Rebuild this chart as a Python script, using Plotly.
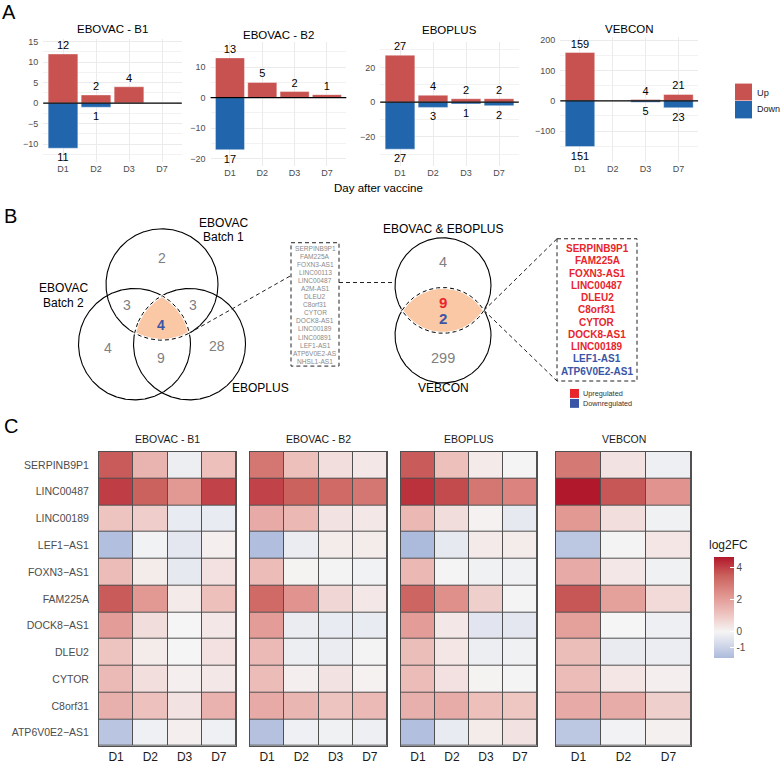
import numpy as np
import plotly.graph_objects as go

W, H = 784, 764
FONT = "Liberation Sans, Arial, sans-serif"

# ---------------- DATA ----------------
days = ["D1", "D2", "D3", "D7"]
cohorts = ["EBOVAC - B1", "EBOVAC - B2", "EBOPLUS", "VEBCON"]

up_b1 = [12, 2, 4, 0]
down_b1 = [11, 1, 0, 0]
up_b2 = [13, 5, 2, 1]
down_b2 = [17, 0, 0, 0]
up_ep = [27, 4, 2, 2]
down_ep = [27, 3, 1, 2]
up_vb = [159, 0, 4, 21]
down_vb = [151, 0, 5, 23]

genes = ["SERPINB9P1", "LINC00487", "LINC00189", "LEF1\u2212AS1", "FOXN3\u2212AS1",
         "FAM225A", "DOCK8\u2212AS1", "DLEU2", "CYTOR", "C8orf31", "ATP6V0E2\u2212AS1"]
days_vb = ["D1", "D2", "D7"]

lfc_b1 = [[3.6, 1.5, -0.2, 1.2],
          [4.1, 3.5, 2.2, 4.0],
          [1.1, 0.9, -0.3, -0.3],
          [-1.5, -0.1, -0.4, 0.15],
          [1.3, 0.2, -0.35, 0.45],
          [3.6, 2.2, 0.25, 1.2],
          [2.1, 0.55, 0.0, 0.3],
          [1.1, 0.2, 0.0, 0.45],
          [1.35, 0.5, 0.15, 0.3],
          [1.6, 1.15, 0.4, 1.55],
          [-1.35, -0.15, 0.15, -0.15]]
lfc_b2 = [[3.0, 1.2, 0.5, 0.3],
          [4.0, 3.5, 3.3, 3.0],
          [1.75, 1.4, 0.4, 0.3],
          [-1.55, -0.25, 0.2, 0.2],
          [1.3, 0.07, -0.05, -0.1],
          [3.3, 2.3, 0.7, 0.3],
          [2.1, -0.25, -0.3, -0.3],
          [1.35, -0.2, -0.25, -0.05],
          [1.3, 0.15, 0.4, 0.1],
          [1.75, 1.45, 1.1, 1.35],
          [-1.45, -0.15, -0.12, -0.17]]
lfc_ep = [[3.6, 1.2, 0.25, -0.03],
          [4.3, 3.9, 3.0, 2.7],
          [1.4, 0.55, 0.1, -0.35],
          [-1.65, -0.35, 0.25, 0.2],
          [1.4, 0.03, -0.12, -0.12],
          [3.4, 2.4, 0.85, 0.02],
          [2.1, 0.3, -0.45, -0.4],
          [1.25, 0.35, -0.2, -0.12],
          [1.3, 0.45, 0.07, 0.02],
          [1.6, 1.7, 1.2, 1.05],
          [-1.5, -0.3, 0.2, 0.4]]
lfc_vb = [[2.95, 0.4, -0.18],
          [4.7, 3.7, 2.3],
          [2.2, 0.5, -0.12],
          [-1.3, -0.05, 0.35],
          [1.75, 0.3, -0.12],
          [3.7, 2.0, 0.6],
          [2.0, 0.0, -0.17],
          [1.25, -0.28, -0.22],
          [1.3, 0.35, 0.15],
          [1.75, 1.7, 0.85],
          [-1.3, -0.08, 0.12]]

# Venn counts: B1 only, B1&B2, B1&EBOPLUS, all three, B2 only, B2&EBOPLUS, EBOPLUS only
venn1_counts = [2, 3, 3, 4, 4, 9, 28]
# EBOVAC&EBOPLUS only, shared up, shared down, VEBCON only
venn2_counts = [4, 9, 2, 299]
box1_genes = ["SERPINB9P1", "FAM225A", "FOXN3-AS1", "LINC00113", "LINC00487", "A2M-AS1",
              "DLEU2", "C8orf31", "CYTOR", "DOCK8-AS1", "LINC00189", "LINC00891",
              "LEF1-AS1", "ATP6V0E2-AS", "NHSL1-AS1"]
box2_up = ["SERPINB9P1", "FAM225A", "FOXN3-AS1", "LINC00487", "DLEU2", "C8orf31",
           "CYTOR", "DOCK8-AS1", "LINC00189"]
box2_down = ["LEF1-AS1", "ATP6V0E2-AS1"]

# ---------------- STYLE ----------------
RED = "#C85250"
BLUE = "#2166AC"
GREY_TXT = "#4D4D4D"
VENN_GREY = "#7F7F7F"
ORANGE = "#FAC8A5"
UPRED = "#E8252B"
DNBLUE = "#3A55A5"


def dx(a, b):
    return [a / W, b / W]


def dy(top, bottom):
    return [1 - bottom / H, 1 - top / H]


fig = go.Figure()

# ---------------- PANEL A ----------------
bar_sets = [(up_b1, down_b1), (up_b2, down_b2), (up_ep, down_ep), (up_vb, down_vb)]
a_xdom = [(43.2, 181.8), (210.6, 346.3), (380.2, 518.8), (560.3, 698.1)]
a_ydom = [(37, 161), (40, 165), (40, 165), (35, 161)]
a_yrng = [(-14.4, 15.7), (-22.36, 18.26), (-36.74, 34.69), (-202.3, 210.8)]
a_tickvals = [[-10, -5, 0, 5, 10, 15], [-20, -10, 0, 10], [-20, 0, 20], [-100, 0, 100, 200]]
a_minor = [[-12.5, -7.5, -2.5, 2.5, 7.5, 12.5], [-15, -5, 5, 15], [-30, -10, 10, 30], [-150, -50, 50, 150]]

shapes = []
for i, (up, dn) in enumerate(bar_sets):
    n = i + 1
    xa = "x" if n == 1 else f"x{n}"
    ya = "y" if n == 1 else f"y{n}"
    fig.add_trace(go.Bar(x=days, y=up, width=0.9, marker=dict(color=RED, line=dict(color="rgba(255,255,255,0.7)", width=0.6)),
                         text=[str(v) if v else "" for v in up], textposition="outside",
                         textfont=dict(size=11, color="black"), cliponaxis=False, constraintext="none",
                         xaxis=xa, yaxis=ya, showlegend=False, hoverinfo="skip"))
    fig.add_trace(go.Bar(x=days, y=[-v for v in dn], width=0.9, marker=dict(color=BLUE, line=dict(color="rgba(255,255,255,0.7)", width=0.6)),
                         text=[str(v) if v else "" for v in dn], textposition="outside",
                         textfont=dict(size=11, color="black"), cliponaxis=False, constraintext="none",
                         xaxis=xa, yaxis=ya, showlegend=False, hoverinfo="skip"))
    key = "" if n == 1 else str(n)
    fig.layout["xaxis" + key] = dict(domain=dx(*a_xdom[i]), anchor=ya, range=[-0.6, 3.6],
                                     categoryorder="array", categoryarray=days,
                                     showgrid=True, gridcolor="#EBEBEB", gridwidth=1, zeroline=False,
                                     showline=False, ticks="", tickfont=dict(size=9, color=GREY_TXT),
                                     fixedrange=True)
    fig.layout["yaxis" + key] = dict(domain=dy(*a_ydom[i]), anchor=xa, range=list(a_yrng[i]),
                                     tickmode="array", tickvals=a_tickvals[i],
                                     ticktext=[str(v).replace("-", "\u2212") for v in a_tickvals[i]],
                                     showgrid=True, gridcolor="#EBEBEB", gridwidth=1,
                                     minor=dict(tickmode="array", tickvals=a_minor[i], showgrid=True,
                                                gridcolor="#F2F2F2", gridwidth=0.8),
                                     zeroline=False, showline=False, ticks="", ticklabelstandoff=4,
                                     tickfont=dict(size=9, color=GREY_TXT), fixedrange=True)
    shapes.append(dict(type="line", xref=f"{xa} domain", yref=ya, x0=0, x1=1, y0=0, y1=0,
                       line=dict(color="black", width=1.3)))

# ---------------- PANEL C (heatmaps) ----------------
hm_sets = [(lfc_b1, days), (lfc_b2, days), (lfc_ep, days), (lfc_vb, days_vb)]
c_xdom = [(99, 236), (250, 387), (401, 537), (556, 691)]
c_ydom = (452, 748)
ZMIN, ZMAX = -1.65, 4.7
span = ZMAX - ZMIN


def pos(v):
    return (v - ZMIN) / span


cscale = [[0, "#ACBADC"], [pos(-0.8), "#D3D9EA"], [pos(0), "#F5F5F5"], [pos(1.175), "#EDC1BD"],
          [pos(2.35), "#E0928D"], [pos(3.525), "#CB615D"], [1, "#B2182B"]]

for i, (z, cols) in enumerate(hm_sets):
    n = 5 + i
    xa, ya = f"x{n}", f"y{n}"
    fig.add_trace(go.Heatmap(z=np.ones((len(genes), len(cols))), x=cols, y=genes,
                             colorscale=[[0, "#505050"], [1, "#505050"]], showscale=False,
                             hoverinfo="skip", xaxis=xa, yaxis=ya))
    fig.add_trace(go.Heatmap(z=z, x=cols, y=genes, zmin=ZMIN, zmax=ZMAX, colorscale=cscale,
                             xgap=1, ygap=1, showscale=(i == 0), xaxis=xa, yaxis=ya,
                             colorbar=dict(x=714 / W, xanchor="left", xpad=0, ypad=0,
                                           y=1 - 608.5 / H, yanchor="middle",
                                           len=101, lenmode="pixels", thickness=20,
                                           outlinewidth=0, tickvals=[-1, 0, 2, 4],
                                           ticktext=["-1", "0", "2", "4"],
                                           ticks="inside", ticklen=4, tickcolor="white",
                                           tickfont=dict(size=10, color=GREY_TXT))))
    fig.layout[f"xaxis{n}"] = dict(domain=dx(*c_xdom[i]), anchor=ya, showgrid=False, zeroline=False,
                                   showline=True, mirror=True, linecolor="#505050", linewidth=1,
                                   ticks="", tickfont=dict(size=12, color="#1A1A1A"), fixedrange=True)
    fig.layout[f"yaxis{n}"] = dict(domain=dy(*c_ydom), anchor=xa, autorange="reversed",
                                   showgrid=False, zeroline=False, showline=True, mirror=True,
                                   linecolor="#505050", linewidth=1, ticks="",
                                   showticklabels=(i == 0), ticklabelstandoff=7,
                                   tickfont=dict(size=10.5, color=GREY_TXT), fixedrange=True)

# ---------------- PANEL B (Venn, pixel overlay axes) ----------------
fig.layout["xaxis9"] = dict(domain=[0, 1], range=[0, W], visible=False, fixedrange=True, anchor="y9")
fig.layout["yaxis9"] = dict(domain=[0, 1], range=[H, 0], visible=False, fixedrange=True, anchor="x9")

th = np.linspace(0, 2 * np.pi, 721)


def circle(c, r):
    return c[0] + r * np.cos(th), c[1] + r * np.sin(th)


def region(circles):
    pts = []
    for k, (c, r) in enumerate(circles):
        x, y = circle(c, r)
        mask = np.ones_like(x, dtype=bool)
        for j, (c2, r2) in enumerate(circles):
            if j != k:
                mask &= (x - c2[0]) ** 2 + (y - c2[1]) ** 2 <= r2 ** 2 + 1e-6
        pts.append(np.c_[x[mask], y[mask]])
    P = np.vstack(pts)
    cen = P.mean(axis=0)
    order = np.argsort(np.arctan2(P[:, 1] - cen[1], P[:, 0] - cen[0]))
    P = P[order]
    P = np.vstack([P, P[:1]])
    return P[:, 0], P[:, 1]


v1 = [((162, 284), 56), ((134.5, 344), 56), ((189.5, 344), 56)]
v2 = [((443, 285), 48), ((443, 335), 48)]

for c, r in v1 + v2:
    x, y = circle(c, r)
    fig.add_trace(go.Scatter(x=x, y=y, mode="lines", line=dict(color="black", width=1.1),
                             xaxis="x9", yaxis="y9", showlegend=False, hoverinfo="skip"))
for reg in (v1, v2):
    rx, ry = region(reg)
    fig.add_trace(go.Scatter(x=rx, y=ry, mode="lines", fill="toself", fillcolor=ORANGE,
                             line=dict(color="white", width=2.6), xaxis="x9", yaxis="y9",
                             showlegend=False, hoverinfo="skip"))
    fig.add_trace(go.Scatter(x=rx, y=ry, mode="lines", line=dict(color="black", width=1, dash="4px,3px"),
                             xaxis="x9", yaxis="y9", showlegend=False, hoverinfo="skip"))

dash_line = dict(color="#222222", width=1, dash="4px,3px")
shapes += [
    dict(type="rect", xref="x9", yref="y9", x0=291, x1=339, y0=242, y1=366, line=dash_line),
    dict(type="rect", xref="x9", yref="y9", x0=557, x1=637, y0=238, y1=381, line=dash_line),
    dict(type="line", xref="x9", yref="y9", x0=189, y0=333, x1=291, y1=275, line=dash_line),
    dict(type="line", xref="x9", yref="y9", x0=339, y0=282, x1=395, y1=282, line=dash_line),
    dict(type="line", xref="x9", yref="y9", x0=484, y0=310, x1=557, y1=238, line=dash_line),
    dict(type="line", xref="x9", yref="y9", x0=484, y0=310, x1=557, y1=381, line=dash_line),
    # legend A
    dict(type="rect", xref="x9", yref="y9", x0=735, x1=752, y0=82, y1=99, fillcolor=RED, line=dict(width=0)),
    dict(type="rect", xref="x9", yref="y9", x0=735, x1=752, y0=99.5, y1=117, fillcolor=BLUE, line=dict(width=0)),
    # legend B
    dict(type="rect", xref="x9", yref="y9", x0=570, x1=579, y0=389, y1=398, fillcolor=UPRED, line=dict(width=0)),
    dict(type="rect", xref="x9", yref="y9", x0=570, x1=579, y0=399, y1=408, fillcolor=DNBLUE, line=dict(width=0)),
]

ann = []


def T(x, y, text, size, color="black", xanchor="center"):
    ann.append(dict(x=x, y=y, xref="x9", yref="y9", text=text, showarrow=False, borderpad=0,
                    font=dict(size=size, color=color, family=FONT), xanchor=xanchor, yanchor="middle"))


# panel letters
T(9, 10, "A", 20)
T(10, 215, "B", 20)
T(11, 426, "C", 20)

# panel A titles
for (xc, yc), t in zip([(112.5, 27), (278.5, 33), (449.5, 28), (629, 27)], cohorts):
    T(xc, yc, t, 11.5)
T(378, 187, "Day after vaccine", 11.5)
T(756, 91, "Up", 9.2, "#1A1A1A", "left")
T(756, 108, "Down", 9, "#1A1A1A", "left")

# venn 1
v1_pos = [(162, 257), (127, 305), (193, 305), (161, 325), (108, 348), (161, 358), (217, 346)]
for k, ((px, py), cnt) in enumerate(zip(v1_pos, venn1_counts)):
    if k == 3:
        T(px, py, f"<b>{cnt}</b>", 14, DNBLUE)
    else:
        T(px, py, str(cnt), 14, VENN_GREY)
T(223, 222, "EBOVAC", 12)
T(223, 236, "Batch 1", 12)
T(63, 288, "EBOVAC", 12)
T(63, 303, "Batch 2", 12)
T(260, 388, "EBOPLUS", 12)

# venn 2
T(443, 228, "EBOVAC & EBOPLUS", 12)
T(443, 261, str(venn2_counts[0]), 14.5, VENN_GREY)
T(443, 302, f"<b>{venn2_counts[1]}</b>", 15, UPRED)
T(443, 318, f"<b>{venn2_counts[2]}</b>", 15, DNBLUE)
T(443, 358, str(venn2_counts[3]), 14.5, VENN_GREY)
T(443, 388, "VEBCON", 12)

# gene boxes
for k, g in enumerate(box1_genes):
    T(315, 248 + k * 8.07, g, 6.6, "#8A8A8A")
for k, g in enumerate(box2_up + box2_down):
    T(597, 248 + k * 12.3, f"<b>{g}</b>", 10, UPRED if g in box2_up else DNBLUE)
T(582, 393.5, "Upregulated", 7.3, "#333333", "left")
T(582, 403.5, "Downregulated", 7.3, "#333333", "left")

# panel C titles
for xc, t in zip([167.5, 318.5, 469, 623.5], cohorts):
    T(xc, 439, t, 10.5, "#1A1A1A")
T(708, 546, "log2FC", 12, "#1A1A1A", "left")

fig.update_layout(width=W, height=H, margin=dict(l=0, r=0, t=0, b=0),
                  paper_bgcolor="white", plot_bgcolor="rgba(0,0,0,0)",
                  font=dict(family=FONT), barmode="overlay", showlegend=False,
                  shapes=shapes, annotations=ann)

fig.write_html("out.html")
